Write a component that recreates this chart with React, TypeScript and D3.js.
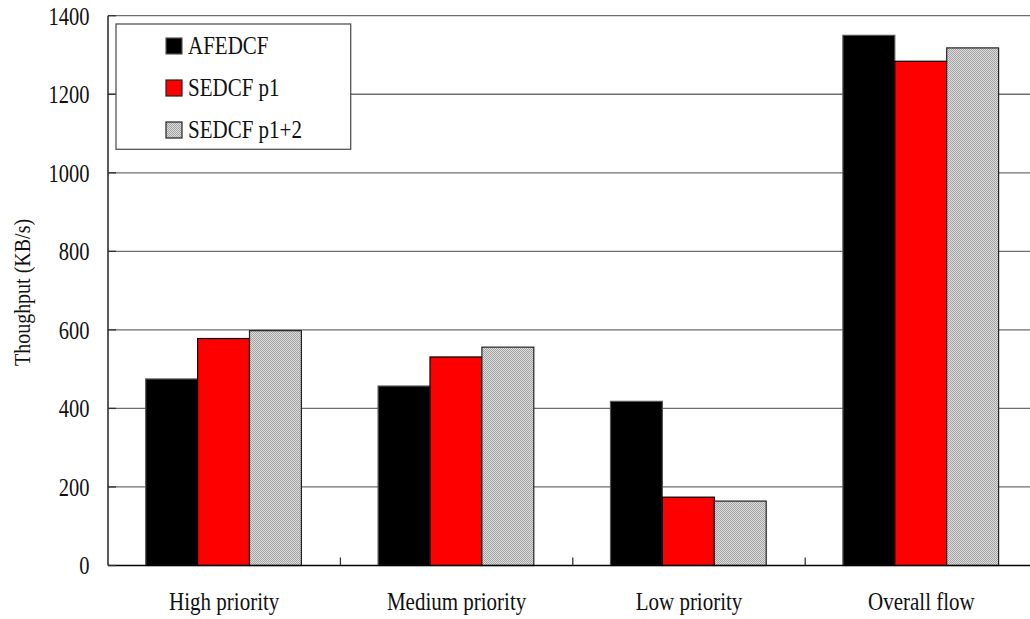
import React from "react";
import * as d3 from "d3";

// Throughput per traffic class for each scheme (KB/s)
const categories = ["High priority", "Medium priority", "Low priority", "Overall flow"];
const seriesNames = ["AFEDCF", "SEDCF p1", "SEDCF p1+2"];
const afedcf = [475, 457, 418, 1350];
const sedcfP1 = [578, 531, 174, 1284];
const sedcfP12 = [598, 556, 164, 1318];
const yTicks = [0, 200, 400, 600, 800, 1000, 1200, 1400];

const W = 1030;
const H = 619;
const left = 108;
const bandW = 232.4;
const top = 15.7;
const bottom = 565.5;

const FONT = "'Liberation Serif', 'DejaVu Serif', serif";
const SY = 1.2; // taller glyph proportions

function Label(props: {
  x: number;
  y: number;
  size: number;
  anchor?: "start" | "middle" | "end";
  rotate?: number;
  dy?: string;
  children: React.ReactNode;
}) {
  const { x, y, size, anchor = "start", rotate = 0, dy, children } = props;
  return (
    <text
      transform={`translate(${x},${y}) rotate(${rotate}) scale(1,${SY})`}
      textAnchor={anchor}
      dy={dy}
      fontFamily={FONT}
      fontSize={size}
      fill="#111"
    >
      {children}
    </text>
  );
}

export default function App() {
  const series = [afedcf, sedcfP1, sedcfP12];
  const fills = ["#000000", "#ff0000", "url(#dots)"];
  const strokes = ["#555555", "#000000", "#222222"];

  const x = d3
    .scaleBand<string>()
    .domain(categories)
    .range([left, left + bandW * categories.length])
    .paddingInner(0)
    .paddingOuter(0);
  const y = d3.scaleLinear().domain([0, 1400]).range([bottom, top]);
  const barW = 51.9;
  const groupOff = 37.7;

  return (
    <svg width={W} height={H} style={{ position: "absolute", left: 0, top: 0, display: "block" }}>
      <defs>
        <pattern id="dots" width="2" height="2" patternUnits="userSpaceOnUse">
          <rect width="2" height="2" fill="#dcdcdc" />
          <rect width="1" height="1" fill="#a4a4a4" />
          <rect x="1" y="1" width="1" height="1" fill="#a4a4a4" />
        </pattern>
      </defs>
      <rect width={W} height={H} fill="#ffffff" />

      {/* gridlines */}
      {yTicks.slice(1).map((t) => (
        <line key={t} x1={left} x2={W} y1={y(t)} y2={y(t)} stroke="#6e6e6e" strokeWidth={1.3} />
      ))}

      {/* bars */}
      {categories.map((c, ci) =>
        series.map((s, si) => {
          const bx = (x(c) as number) + groupOff + si * barW;
          return (
            <rect
              key={c + si}
              x={bx}
              y={y(s[ci])}
              width={barW}
              height={y(0) - y(s[ci])}
              fill={fills[si]}
              stroke={strokes[si]}
              strokeWidth={1.2}
            />
          );
        })
      )}

      {/* axes */}
      <line x1={left} x2={left} y1={top} y2={bottom} stroke="#000" strokeWidth={1.3} />
      <line x1={left} x2={W} y1={bottom} y2={bottom} stroke="#000" strokeWidth={1.3} />
      {yTicks.map((t) => (
        <g key={t}>
          <line x1={left} x2={left + 8} y1={y(t)} y2={y(t)} stroke="#333" strokeWidth={1.3} />
          <Label x={left - 18.5} y={y(t) + 0.8} size={20.5} anchor="end" dy="0.33em">
            {t}
          </Label>
        </g>
      ))}
      {categories.map((c, i) => (
        <g key={c}>
          {i > 0 && (
            <line
              x1={x(c) as number}
              x2={x(c) as number}
              y1={bottom}
              y2={bottom - 8}
              stroke="#333"
              strokeWidth={1.3}
            />
          )}
          <Label x={(x(c) as number) + bandW / 2} y={609.5} size={21} anchor="middle">
            {c}
          </Label>
        </g>
      ))}

      <Label x={29.5} y={292.5} size={20} anchor="middle" rotate={-90}>
        Thoughput (KB/s)
      </Label>

      {/* legend */}
      <rect x={116} y={24} width={234.7} height={125.3} fill="#fff" stroke="#555" strokeWidth={1.3} />
      {seriesNames.map((n, i) => {
        const cy = 46 + i * 42;
        return (
          <g key={n}>
            <rect
              x={166}
              y={cy - 8}
              width={16}
              height={16}
              fill={fills[i]}
              stroke={i === 0 ? "#555" : "#222"}
              strokeWidth={1.2}
            />
            <Label x={188} y={cy} size={21} dy="0.33em">
              {n}
            </Label>
          </g>
        );
      })}
    </svg>
  );
}
